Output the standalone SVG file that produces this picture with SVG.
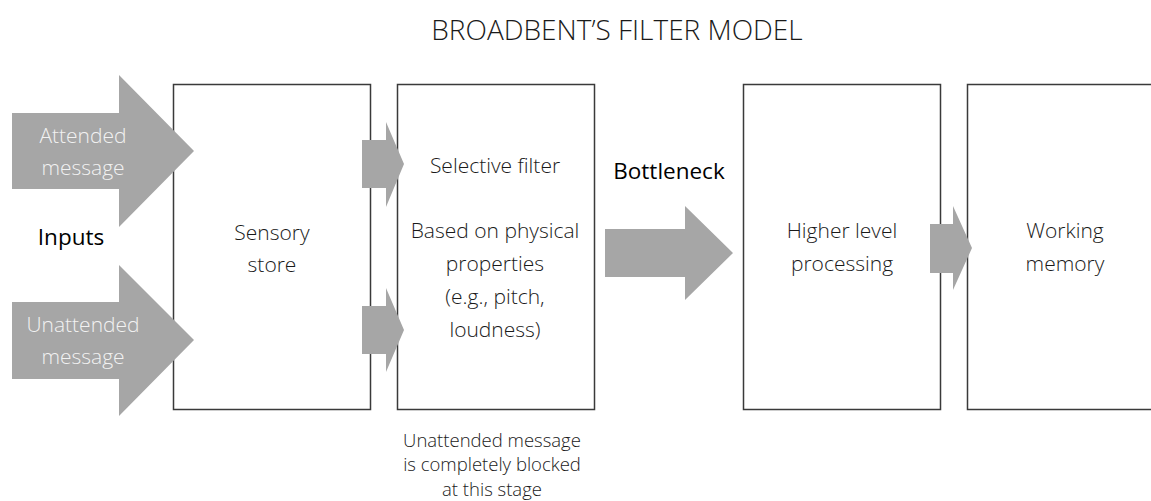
<svg xmlns="http://www.w3.org/2000/svg" width="1151" height="501" viewBox="0 0 1151 501">
<style>
.box{fill:#ffffff;stroke:#3a3a3a;stroke-width:1.5}
.arr{fill:#a6a6a6}
.t{font-family:"Open Sans","Liberation Sans",sans-serif;font-weight:300;fill:#1a1a1a;text-anchor:middle}
.m{font-size:21px}
.w{fill:#f2f2f2}
.b{font-family:"Open Sans","Liberation Sans",sans-serif;font-weight:400;fill:#000000;text-anchor:middle;font-size:22.5px}
</style>
<rect width="1151" height="501" fill="#ffffff"/>
<text class="t" x="617" y="40" font-size="28">BROADBENT’S FILTER MODEL</text>

<g id="sensory-store">
<rect class="box" x="173.5" y="84.5" width="197" height="325"/>
<text class="t m" x="272" y="240">Sensory</text>
<text class="t m" x="272" y="272">store</text>
</g>
<g id="selective-filter">
<rect class="box" x="397.5" y="84.5" width="197" height="325"/>
<text class="t m" x="495" y="173">Selective filter</text>
<text class="t m" x="495" y="238">Based on physical</text>
<text class="t m" x="495" y="271">properties</text>
<text class="t m" x="495" y="304">(e.g., pitch,</text>
<text class="t m" x="495" y="337">loudness)</text>
</g>
<g id="higher-level">
<rect class="box" x="743.5" y="84.5" width="197" height="325"/>
<text class="t m" x="842" y="238">Higher level</text>
<text class="t m" x="842" y="271">processing</text>
</g>
<g id="working-memory">
<rect class="box" x="967.5" y="84.5" width="200" height="325"/>
<text class="t m" x="1065" y="238">Working</text>
<text class="t m" x="1065" y="271">memory</text>
</g>

<g id="labels">
<text class="b" x="71" y="245">Inputs</text>
<text class="b" x="669" y="179">Bottleneck</text>
<text class="t" font-size="18.5" x="492" y="447">Unattended message</text>
<text class="t" font-size="18.5" x="492" y="471">is completely blocked</text>
<text class="t" font-size="18.5" x="492" y="496">at this stage</text>
</g>

<g id="connectors">
<g id="attended-input">
<polygon class="arr" points="12,113 119,113 119,75 194,151 119,227 119,189 12,189"/>
<text class="t m w" x="83" y="143">Attended</text>
<text class="t m w" x="83" y="175">message</text>
</g>
<g id="unattended-input">
<polygon class="arr" points="12,302 119,302 119,265 194,340 119,416 119,379 12,379"/>
<text class="t m w" x="83" y="332">Unattended</text>
<text class="t m w" x="83" y="364">message</text>
</g>
<polygon class="arr" points="362,140 386,140 386,122 404,164 386,207 386,188 362,188"/>
<polygon class="arr" points="362,306 386,306 386,288 404,330 386,372 386,354 362,354"/>
<polygon class="arr" points="605,229 685,229 685,206 733,253 685,300 685,277 605,277"/>
<polygon class="arr" points="930,224 953,224 953,206 972,248 953,290 953,273 930,273"/>
</g>
</svg>
